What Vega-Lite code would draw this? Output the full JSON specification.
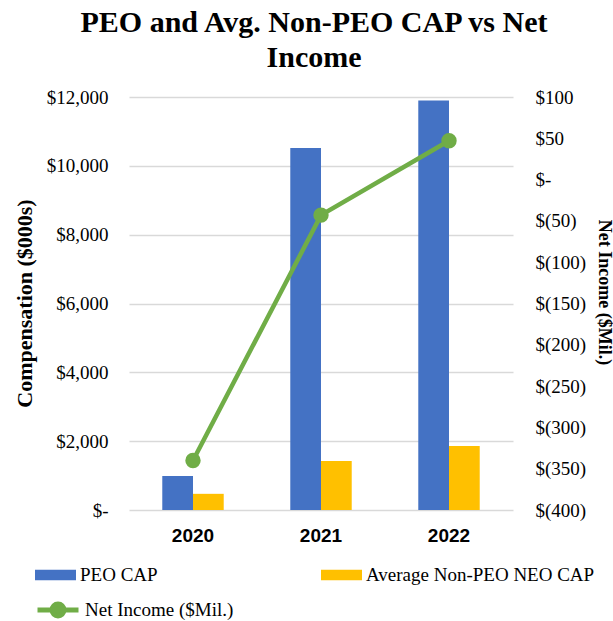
{
  "$schema": "https://vega.github.io/schema/vega-lite/v6.json",
  "autosize": "none",
  "width": 384,
  "height": 413,
  "padding": {"left": 129, "top": 97, "right": 100, "bottom": 111},
  "background": "white",
  "title": {
    "text": ["PEO and Avg. Non-PEO CAP vs Net", "Income"],
    "font": "Liberation Serif",
    "fontSize": 30,
    "fontWeight": "bold",
    "color": "#000000",
    "lineHeight": 35,
    "anchor": "middle",
    "frame": "group",
    "dx": -7,
    "offset": 15
  },
  "datasets": {
    "bars": [
      {"year": "2020", "series": "PEO CAP", "value": 990},
      {"year": "2020", "series": "Average Non-PEO NEO CAP", "value": 470},
      {"year": "2021", "series": "PEO CAP", "value": 10520},
      {"year": "2021", "series": "Average Non-PEO NEO CAP", "value": 1425},
      {"year": "2022", "series": "PEO CAP", "value": 11900},
      {"year": "2022", "series": "Average Non-PEO NEO CAP", "value": 1860}
    ],
    "net": [
      {"year": "2020", "net": -340, "series": "Net Income ($Mil.)"},
      {"year": "2021", "net": -43, "series": "Net Income ($Mil.)"},
      {"year": "2022", "net": 47, "series": "Net Income ($Mil.)"}
    ]
  },
  "encoding": {
    "x": {
      "field": "year",
      "type": "nominal",
      "scale": {"paddingInner": 0.52, "paddingOuter": 0.26},
      "axis": {
        "title": null,
        "labelAngle": 0,
        "labelFont": "Liberation Sans",
        "labelFontWeight": "bold",
        "labelFontSize": 19,
        "labelColor": "#000000",
        "labelPadding": 16,
        "domain": false,
        "ticks": false,
        "grid": false
      }
    }
  },
  "layer": [
    {
      "data": {"name": "bars"},
      "mark": {"type": "bar"},
      "encoding": {
        "xOffset": {
          "field": "series",
          "type": "nominal",
          "scale": {"domain": ["PEO CAP", "Average Non-PEO NEO CAP"], "paddingInner": 0, "paddingOuter": 0}
        },
        "y": {
          "field": "value",
          "type": "quantitative",
          "scale": {"domain": [0, 12000], "nice": false},
          "axis": {
            "orient": "left",
            "values": [0, 2000, 4000, 6000, 8000, 10000, 12000],
            "labelExpr": "datum.value == 0 ? '$-\u00a0\u00a0' : '$' + format(datum.value, ',')",
            "labelFont": "Liberation Serif",
            "labelFontSize": 19,
            "labelColor": "#000000",
            "labelPadding": 21,
            "domain": false,
            "ticks": false,
            "grid": true,
            "gridColor": "#D9D9D9",
            "gridWidth": 1.3,
            "title": "Compensation ($000s)",
            "titleFont": "Liberation Serif",
            "titleFontSize": 22,
            "titleFontWeight": "bold",
            "titleColor": "#000000",
            "titleAngle": -90,
            "titleBaseline": "middle",
            "titleAlign": "center",
            "titleX": -105,
            "titleY": 206
          }
        },
        "fill": {
          "field": "series",
          "type": "nominal",
          "scale": {
            "domain": ["PEO CAP", "Average Non-PEO NEO CAP"],
            "range": ["#4472C4", "#FFC000"]
          },
          "legend": {
            "title": null,
            "orient": "none",
            "legendX": -94,
            "legendY": 467,
            "columns": 2,
            "columnPadding": 163,
            "clipHeight": 22,
            "labelFont": "Liberation Serif",
            "labelFontSize": 19,
            "labelColor": "#000000",
            "labelOffset": 4,
            "labelLimit": 400,
            "symbolType": "M-1,-0.256H1V0.256H-1Z",
            "symbolSize": 1681,
            "symbolStrokeWidth": 0,
            "symbolOpacity": 1
          }
        }
      }
    },
    {
      "data": {"name": "net"},
      "mark": {"type": "line", "strokeWidth": 4.5, "point": {"filled": true, "size": 180, "opacity": 1, "fill": "#70AD47"}},
      "encoding": {
        "y": {
          "field": "net",
          "type": "quantitative",
          "scale": {"domain": [-400, 100], "nice": false},
          "axis": {
            "orient": "right",
            "values": [-400, -350, -300, -250, -200, -150, -100, -50, 0, 50, 100],
            "labelExpr": "datum.value == 0 ? '$-' : (datum.value < 0 ? '$(' + format(-datum.value, ',') + ')' : '$' + format(datum.value, ','))",
            "labelFont": "Liberation Serif",
            "labelFontSize": 19,
            "labelColor": "#000000",
            "labelPadding": 22,
            "domain": false,
            "ticks": false,
            "grid": false,
            "title": "Net Income ($Mil.)",
            "titleFont": "Liberation Serif",
            "titleFontSize": 18,
            "titleFontWeight": "bold",
            "titleColor": "#000000",
            "titleAngle": 90,
            "titleBaseline": "middle",
            "titleAlign": "center",
            "titleX": 90,
            "titleY": 195
          }
        },
        "stroke": {
          "field": "series",
          "type": "nominal",
          "scale": {"domain": ["Net Income ($Mil.)"], "range": ["#70AD47"]},
          "legend": {
            "title": null,
            "orient": "none",
            "legendX": -94,
            "legendY": 502,
            "clipHeight": 22,
            "labelFont": "Liberation Serif",
            "labelFontSize": 19,
            "labelColor": "#000000",
            "labelOffset": 4,
            "labelLimit": 400,
            "symbolType": "M-1,0H1M-0.29,0A0.29,0.29,0,1,1,0.29,0A0.29,0.29,0,1,1,-0.29,0Z",
            "symbolSize": 1681,
            "symbolStrokeWidth": 5,
            "symbolFillColor": "#70AD47",
            "symbolOpacity": 1
          }
        }
      }
    }
  ],
  "resolve": {"scale": {"y": "independent"}},
  "config": {
    "view": {"stroke": null}
  }
}
